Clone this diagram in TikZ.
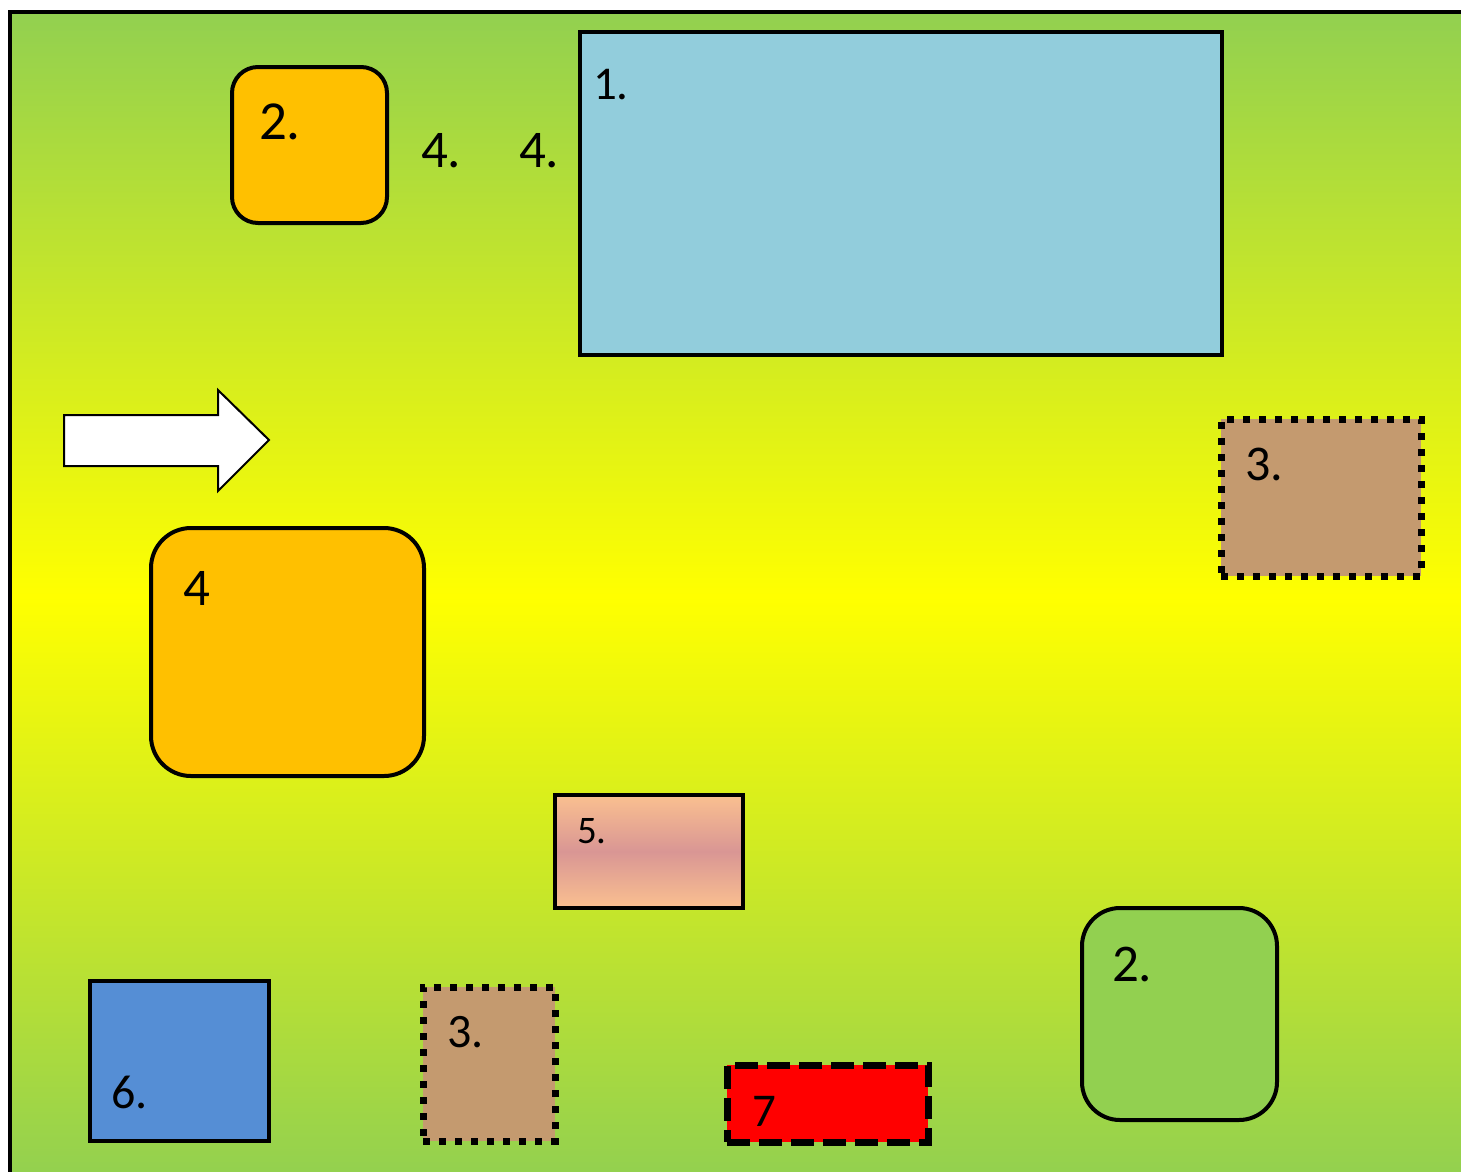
\documentclass[tikz,border=0pt]{standalone}
\usepackage{fontspec}
\setmainfont{Carlito}
\definecolor{bggreen}{HTML}{92D050}
\definecolor{orangeA}{HTML}{FFC000}
\definecolor{skyA}{HTML}{92CDDC}
\definecolor{tanA}{HTML}{C49A6F}
\definecolor{peachA}{HTML}{FAC090}
\definecolor{roseA}{HTML}{D99694}
\definecolor{blueA}{HTML}{558ED5}
\begin{document}
\begin{tikzpicture}[x=1pt,y=-1pt,
  box/.style={draw, line width=4pt, inner sep=0pt, outer sep=0pt, anchor=north west},
  dotbox/.style={box, line width=7pt, dash pattern=on 7pt off 9pt},
  dashbox/.style={box, line width=7pt, dash pattern=on 23pt off 9pt},
  lab/.style={anchor=base west, inner sep=0pt, outer sep=0pt},
  fs/.style={font=\fontsize{#1}{#1}\selectfont}]
\useasboundingbox (0,0) rectangle (1461,1171);
\fill[white] (0,0) rectangle (1461,1171);
\begin{scope}
\clip (0,0) rectangle (1461,1171);
\shade[top color=bggreen, bottom color=bggreen, middle color=yellow] (10,12) rectangle (1480,1180);
\draw[line width=4pt] (10,1190) -- (10,12) -- (1480,12);
\end{scope}

% top orange box
\node[box, fill=orangeA, rounded corners=26pt, minimum width=155pt, minimum height=156pt] (o1) at (232,67) {};
\node[lab, fs=55] (t2a) at (259,139) {2.};
\node[lab, fs=53] (t4a) at (421,167) {4.};
\node[lab, fs=53] (t4b) at (519,167) {4.};

% big blue box
\node[box, line width=3.5pt, fill=skyA, minimum width=642pt, minimum height=323pt] (b1) at (580,32) {};
\node[lab, fs=47] (t1) at (593,99) {1.};

% arrow
\draw[line width=2pt, fill=white, line join=miter] (64,415) -- (218,415) -- (218,390) -- (269,440) -- (218,491) -- (218,466) -- (64,466) -- cycle;

% top right tan box
\node[dotbox, fill=tanA, minimum width=200pt, minimum height=157pt] (tb1) at (1221,419) {};
\node[lab, fs=50] (t3a) at (1245,480) {3.};

% big orange box
\node[box, fill=orangeA, rounded corners=40pt, minimum width=273pt, minimum height=248pt] (o2) at (151,528) {};
\node[lab, fs=53] (t4c) at (183,605) {4};

% pink gradient box
\node[box, line width=3.5pt, top color=peachA, bottom color=peachA, middle color=roseA, minimum width=188pt, minimum height=113pt] (p1) at (555,795) {};
\node[lab, fs=39] (t5) at (577,843) {5.};

% blue square
\node[box, line width=3.5pt, fill=blueA, minimum width=179pt, minimum height=160pt] (bs) at (90,981) {};
\node[lab, fs=48] (t6) at (111,1108) {6.};

% bottom tan box
\node[dotbox, fill=tanA, minimum width=132pt, minimum height=154pt] (tb2) at (423,987) {};
\node[lab, fs=48] (t3b) at (447,1047) {3.};

% red dashed box
\node[dashbox, fill=red, minimum width=201pt, minimum height=77pt] (r1) at (727,1065) {};
\node[lab, fs=47] (t7) at (752,1126) {7};

% green rounded box
\node[box, fill=bggreen, rounded corners=38pt, minimum width=195pt, minimum height=212pt] (g1) at (1082,908) {};
\node[lab, fs=53] (t2b) at (1112,981) {2.};
\end{tikzpicture}
\end{document}
